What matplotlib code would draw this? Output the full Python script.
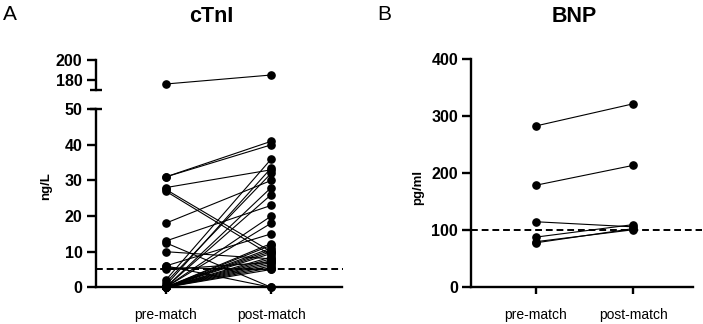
import numpy as np
import matplotlib
matplotlib.use('Agg')
import matplotlib.pyplot as plt

# cTnI (ng/L), one entry per subject: pre-match -> post-match
ctni_pre = [31, 31, 28, 27.5, 27, 18, 13, 12.5, 10, 6, 6, 5.5, 5, 2, 1.3, 0.5,
            0, 0, 0, 0, 0, 0, 0, 0, 0, 0, 0, 0, 0, 0, 0, 0, 0, 0]
ctni_post = [41, 40, 33, 10, 9, 30, 23, 0, 8, 15, 0, 5, 7, 36, 32, 33.5,
             28, 26, 20, 18, 12.3, 11.8, 11, 10.5, 10, 9.5, 8.5, 8, 7.5, 7, 6.5, 6, 5.5, 5]
# the one subject above the axis break
ctni_hi_pre = [176]
ctni_hi_post = [185]
ctni_cutoff = 5

# BNP (pg/ml)
bnp_pre = [283, 179, 115, 88, 78, 80]
bnp_post = [322, 214, 106, 110, 103, 101]
bnp_cutoff = 100

groups = ['pre-match', 'post-match']

plt.rcParams['font.family'] = ['Liberation Sans', 'DejaVu Sans']
SPW = 1.7


def style_y(ax):
    for s in ['top', 'right']:
        ax.spines[s].set_visible(False)
    ax.spines['left'].set_linewidth(SPW)
    ax.spines['bottom'].set_linewidth(SPW)
    ax.tick_params(axis='y', direction='out', length=6.5, width=SPW, labelsize=11.5, pad=3)
    for t in ax.get_yticklabels():
        t.set_fontweight('bold')


def pairs(ax, pre, post):
    for a, b in zip(pre, post):
        ax.plot([0, 1], [a, b], color='black', lw=0.8, marker='o', ms=5.2,
                clip_on=False, zorder=3)


def main():
    fig = plt.figure(figsize=(7.03, 3.24), dpi=100)

    # ---- panel A: broken axis ----
    x0, w = 0.1361, 0.3500
    ax_lo = fig.add_axes([x0, 0.1133, w, 0.5494])
    ax_hi = fig.add_axes([x0, 0.7222, w, 0.0926])
    xl = (-0.665, 1.67)

    pairs(ax_lo, ctni_pre, ctni_post)
    ax_lo.axhline(ctni_cutoff, xmin=0, xmax=1.005, color='black', lw=1.4,
                  ls=(0, (3.5, 2)), clip_on=False, zorder=2)
    ax_lo.set_xlim(*xl)
    ax_lo.set_ylim(0, 50)
    ax_lo.set_yticks(np.arange(0, 51, 10))
    ax_lo.set_xticks([0, 1])
    ax_lo.set_xticklabels(groups, fontsize=10)
    ax_lo.tick_params(axis='x', direction='out', length=5, width=SPW, pad=10)
    style_y(ax_lo)

    pairs(ax_hi, ctni_hi_pre, ctni_hi_post)
    ax_hi.set_xlim(*xl)
    ax_hi.set_ylim(170, 200)
    ax_hi.set_yticks([180, 200])
    ax_hi.set_xticks([])
    style_y(ax_hi)
    ax_hi.spines['bottom'].set_visible(False)

    # break caps
    cap = 6.0 / (w * 703)
    ax_hi.plot([-cap, cap], [0, 0], transform=ax_hi.transAxes, color='black',
               lw=SPW, clip_on=False, solid_capstyle='butt')
    ax_lo.plot([-cap, cap], [1, 1], transform=ax_lo.transAxes, color='black',
               lw=SPW, clip_on=False, solid_capstyle='butt')

    fig.text(0.066, 1 - 186 / 324, 'ng/L', rotation=90, ha='center', va='center',
             fontsize=9.5, fontweight='bold')
    fig.text(211 / 703, 1 - 16 / 324, 'cTnI', ha='center', va='center',
             fontsize=15.5, fontweight='bold')
    fig.text(0.004, 1 - 14 / 324, 'A', ha='left', va='center', fontsize=15)

    # ---- panel B ----
    ax_b = fig.add_axes([0.6704, 0.1133, 0.3154, 0.7037])
    pairs(ax_b, bnp_pre, bnp_post)
    ax_b.axhline(bnp_cutoff, xmin=0, xmax=1.04, color='black', lw=1.4,
                 ls=(0, (3.5, 2)), clip_on=False, zorder=2)
    ax_b.set_xlim(-0.66, 1.61)
    ax_b.set_ylim(0, 400)
    ax_b.set_yticks(np.arange(0, 401, 100))
    ax_b.set_xticks([0, 1])
    ax_b.set_xticklabels(groups, fontsize=10)
    ax_b.tick_params(axis='x', direction='out', length=5, width=SPW, pad=10)
    style_y(ax_b)

    fig.text(418 / 703, 1 - 187 / 324, 'pg/ml', rotation=90, ha='center', va='center',
             fontsize=9.5, fontweight='bold')
    fig.text(574 / 703, 1 - 16 / 324, 'BNP', ha='center', va='center',
             fontsize=15.5, fontweight='bold')
    fig.text(377 / 703, 1 - 14 / 324, 'B', ha='left', va='center', fontsize=15)

    fig.savefig('out.png', dpi=100)
    plt.close()


if __name__ == '__main__':
    main()
